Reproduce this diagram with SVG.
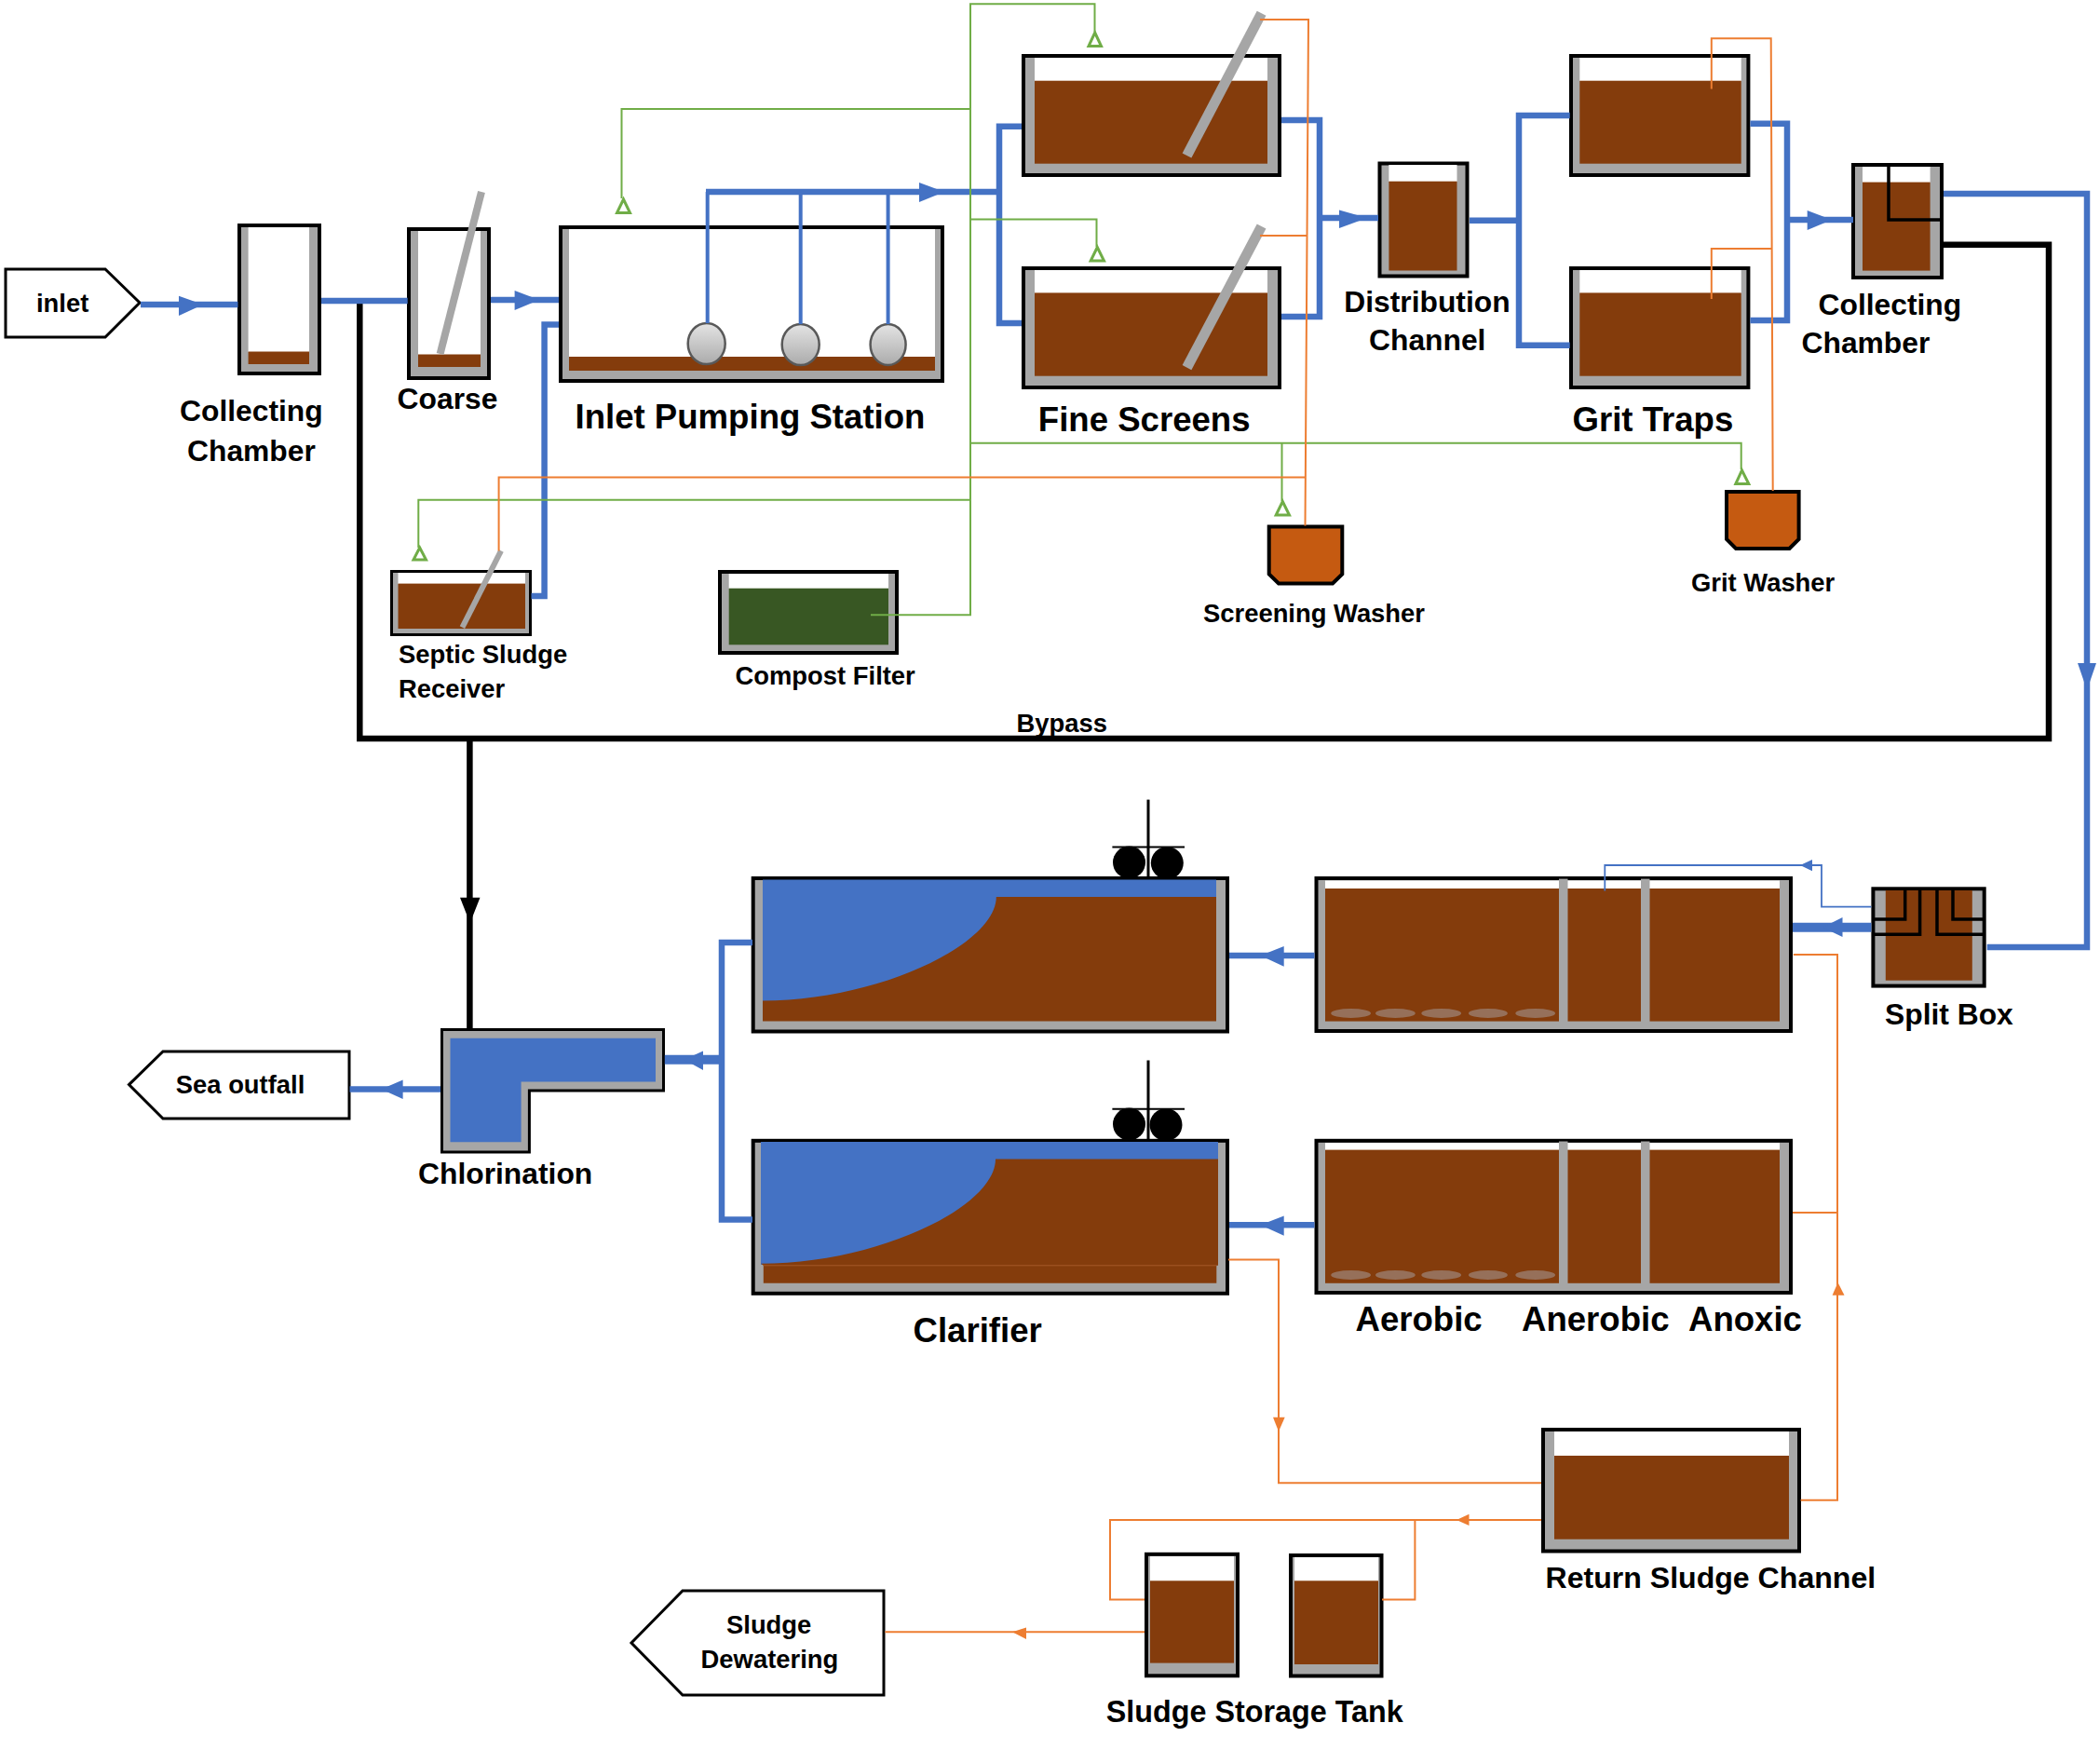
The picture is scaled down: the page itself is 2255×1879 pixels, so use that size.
<svg xmlns="http://www.w3.org/2000/svg" width="2255" height="1879" viewBox="0 0 2255 1879">
<defs>
<linearGradient id="pumpFill" x1="0" y1="0" x2="0" y2="1"><stop offset="0" stop-color="#E4E4E4"/><stop offset="1" stop-color="#ABABAB"/></linearGradient>
</defs>
<style>
text{font-family:"Liberation Sans",Arial,sans-serif;font-weight:700;fill:#000}
.s{font-size:27.4px}.m{font-size:31.8px}.l{font-size:36.6px}
.box{fill:#A6A6A6;stroke:#000;stroke-width:4}
.thin{stroke-width:3}
.clear{fill:#fff}
.mud{fill:#843C0C}
.bio{fill:#385723}
.screen{stroke:#A6A6A6;stroke-width:11;fill:none}
.term{fill:#fff;stroke:#000;stroke-width:3;stroke-linejoin:miter}
.washer{fill:#C55A11;stroke:#000;stroke-width:4}
.pump{fill:url(#pumpFill);stroke:#595959;stroke-width:2.5}
.wire{fill:none;stroke:#000;stroke-width:3.5}
.water{fill:#4472C4}
.bubble{fill:#96705A}
.bk{fill:none;stroke:#000;stroke-width:6.5}
.bl{fill:none;stroke:#4472C4;stroke-width:6.5}
.blt{fill:none;stroke:#4472C4;stroke-width:4}
.blh{fill:none;stroke:#4472C4;stroke-width:1.8}
.gr{fill:none;stroke:#70AD47;stroke-width:2}
.or{fill:none;stroke:#ED7D31;stroke-width:2}
.a-bl{fill:#4472C4}.a-bk{fill:#000}.a-or{fill:#ED7D31}
.a-gr{fill:#fff;stroke:#70AD47;stroke-width:3}
</style>

<g id="inlet"><polygon class="term" points="6,289 113,289 150,325 113,362 6,362"/><text class="s" x="39" y="335">inlet</text></g>

<g id="collecting-chamber-1">
<rect class="box" x="257" y="242" width="86" height="159"/><rect class="clear" x="266.6" y="244" width="65.4" height="134"/><rect class="mud" x="266.6" y="377.5" width="65.4" height="13.5"/>
<text class="m" x="193" y="452.2">Collecting</text><text class="m" x="201" y="495">Chamber</text></g>

<g id="coarse">
<rect class="box" x="439" y="246" width="86" height="160"/><rect class="clear" x="449" y="248" width="67" height="133"/><rect class="mud" x="449" y="380.5" width="67" height="13.5"/>
<line class="screen" style="stroke-width:8" x1="517" y1="206" x2="472.6" y2="380"/>
<text class="m" x="426.6" y="439.2">Coarse</text></g>

<g id="inlet-pumping-station">
<rect class="box" x="602" y="244" width="410" height="165"/><rect class="clear" x="611" y="246" width="393" height="138"/><rect class="mud" x="611" y="383" width="393" height="15"/>
<ellipse class="pump" cx="758.7" cy="369" rx="20" ry="22"/><ellipse class="pump" cx="859.7" cy="370" rx="20" ry="22"/><ellipse class="pump" cx="953.6" cy="370" rx="19" ry="22"/>
<text class="l" x="617.5" y="460">Inlet Pumping Station</text></g>

<g id="fine-screen-1">
<rect class="box" x="1099" y="60" width="275" height="128"/><rect class="clear" x="1111" y="62" width="250" height="25"/><rect class="mud" x="1111" y="86.7" width="250" height="89"/>
<line class="screen" x1="1354.6" y1="14.3" x2="1274.5" y2="167"/></g>
<g id="fine-screen-2">
<rect class="box" x="1099" y="288" width="275" height="128"/><rect class="clear" x="1111" y="290" width="250" height="25"/><rect class="mud" x="1111" y="314.4" width="250" height="89.3"/>
<line class="screen" x1="1354.6" y1="243" x2="1274.5" y2="394.6"/>
<text class="l" x="1114.8" y="463">Fine Screens</text></g>

<g id="distribution-channel">
<rect class="box" x="1481.5" y="175.5" width="94" height="121"/><rect class="clear" x="1491.4" y="177" width="73.1" height="18"/><rect class="mud" x="1491.4" y="194.7" width="73.1" height="95.8"/>
<text class="m" x="1443.2" y="334.6">Distribution</text><text class="m" x="1470" y="376">Channel</text></g>

<g id="grit-trap-1">
<rect class="box" x="1687" y="60" width="190.4" height="128"/><rect class="clear" x="1696.3" y="62" width="173.4" height="25"/><rect class="mud" x="1696.3" y="86.7" width="173.4" height="89"/></g>
<g id="grit-trap-2">
<rect class="box" x="1687" y="288" width="190.4" height="128"/><rect class="clear" x="1696.3" y="290" width="173.4" height="25"/><rect class="mud" x="1696.3" y="314.4" width="173.4" height="89.3"/>
<text class="l" x="1688.5" y="463">Grit Traps</text></g>

<g id="collecting-chamber-2">
<rect class="box" x="1990" y="177" width="95" height="121"/><rect class="clear" x="2000" y="179" width="72.6" height="17"/><rect class="mud" x="2000" y="195.6" width="72.6" height="95"/>
<polyline class="wire" points="2028,177 2028,236 2084,236"/>
<text class="m" x="1952.5" y="338">Collecting</text><text class="m" x="1934.5" y="379">Chamber</text></g>

<g id="septic-sludge-receiver">
<rect class="box thin" x="420.5" y="613.5" width="149" height="68"/><rect class="clear" x="427.5" y="615" width="136.5" height="12"/><rect class="mud" x="427.5" y="626.6" width="136.5" height="48.4"/>
<line class="screen" style="stroke-width:6" x1="538" y1="591.4" x2="496.4" y2="673.7"/>
<text class="s" x="428" y="712">Septic Sludge</text><text class="s" x="428" y="749.2">Receiver</text></g>

<g id="compost-filter">
<rect class="box" x="773" y="614" width="190" height="87"/><rect class="clear" x="782.7" y="616" width="171.3" height="16"/><rect class="bio" x="782.7" y="631.7" width="171.3" height="60.6"/>
<text class="s" x="789.5" y="735">Compost Filter</text></g>

<g id="screening-washer"><polygon class="washer" points="1362.7,565.6 1441.3,565.6 1441.3,616.5 1431,626.5 1373,626.5 1362.7,616.5"/><text class="s" x="1292" y="668">Screening Washer</text></g>
<g id="grit-washer"><polygon class="washer" points="1854,528 1931.6,528 1931.6,579 1921.5,589 1864,589 1854,579"/><text class="s" x="1816" y="634.5">Grit Washer</text></g>

<text id="bypass-label" class="s" x="1091.5" y="785.6">Bypass</text>

<g id="split-box">
<rect class="box" x="2011.4" y="954.3" width="119.3" height="104.3"/><rect class="mud" x="2024.8" y="956" width="93" height="96.7"/>
<polyline class="wire" points="2045.7,956 2045.7,987 2011,987"/><polyline class="wire" points="2061.6,956 2061.6,1003.3 2011,1003.3"/><polyline class="wire" points="2080,956 2080,1003.3 2131,1003.3"/><polyline class="wire" points="2097,956 2097,987 2131,987"/>
<text class="m" x="2024" y="1100.2">Split Box</text></g>

<g id="aeration-basin-1">
<rect class="box" x="1413.5" y="943" width="509.5" height="164"/><rect class="clear" x="1423" y="945.5" width="488" height="9"/><rect class="mud" x="1423" y="954" width="488" height="142.6"/>
<rect class="box" style="stroke:none" x="1674" y="943.6" width="9.5" height="155"/><rect class="box" style="stroke:none" x="1762" y="943.6" width="9.5" height="155"/>
<ellipse class="bubble" cx="1450.6" cy="1088" rx="21.4" ry="5"/><ellipse class="bubble" cx="1498.4" cy="1088" rx="21.4" ry="5"/><ellipse class="bubble" cx="1547.7" cy="1088" rx="21.4" ry="5"/><ellipse class="bubble" cx="1597.9" cy="1088" rx="21" ry="5"/><ellipse class="bubble" cx="1648.7" cy="1088" rx="21.4" ry="5"/></g>
<g id="aeration-basin-2">
<rect class="box" x="1413.5" y="1224.8" width="509.5" height="163.2"/><rect class="clear" x="1423" y="1227" width="488" height="8"/><rect class="mud" x="1423" y="1234.6" width="488" height="143.2"/>
<rect class="box" style="stroke:none" x="1674" y="1225.5" width="9.5" height="155"/><rect class="box" style="stroke:none" x="1762" y="1225.5" width="9.5" height="155"/>
<ellipse class="bubble" cx="1450.6" cy="1369" rx="21.4" ry="5"/><ellipse class="bubble" cx="1498.4" cy="1369" rx="21.4" ry="5"/><ellipse class="bubble" cx="1547.7" cy="1369" rx="21.4" ry="5"/><ellipse class="bubble" cx="1597.9" cy="1369" rx="21" ry="5"/><ellipse class="bubble" cx="1648.7" cy="1369" rx="21.4" ry="5"/>
<text class="l" x="1455.5" y="1428.6">Aerobic</text><text class="l" x="1634" y="1428.6">Anerobic</text><text class="l" x="1813" y="1428.6">Anoxic</text></g>

<g id="clarifier-1">
<line x1="1233" y1="858.6" x2="1233" y2="941" stroke="#000" stroke-width="3"/><line x1="1194.4" y1="909.6" x2="1272" y2="909.6" stroke="#000" stroke-width="2"/>
<circle cx="1212.5" cy="926" r="17.5"/><circle cx="1253.3" cy="926.6" r="17.5"/>
<rect class="box" x="808.7" y="943" width="509.3" height="164.5"/><rect class="water" x="819" y="944.5" width="487" height="135"/><path class="mud" d="M1069.8,963 H1306 V1096.6 H819 V1074.5 C943,1074.5 1069.8,1014 1069.8,963 Z"/></g>
<g id="clarifier-2">
<line x1="1233" y1="1138.5" x2="1233" y2="1223" stroke="#000" stroke-width="3"/><line x1="1194.4" y1="1190.7" x2="1272" y2="1190.7" stroke="#000" stroke-width="2"/>
<circle cx="1212.5" cy="1207" r="17.5"/><circle cx="1252" cy="1207.7" r="17.5"/>
<rect class="box" x="808.7" y="1224.8" width="509.3" height="164"/><rect class="water" x="817" y="1226" width="291" height="132"/><rect class="water" x="1100" y="1226" width="208" height="20"/><path class="mud" d="M1069,1244.5 H1308 V1358.8 H1306.3 V1377.8 H819.8 V1358.8 L817,1356.8 C942,1356.8 1069,1296 1069,1244.5 Z"/><line x1="819.8" y1="1358.8" x2="1306.3" y2="1358.8" stroke="#A5582A" stroke-width="1"/>
<text class="l" x="980.5" y="1441">Clarifier</text></g>

<g id="chlorination">
<polygon class="box" style="stroke-width:3" points="474.5,1105.5 712.5,1105.5 712.5,1171 568.4,1171 568.4,1237 474.5,1237"/><polygon class="water" points="483.5,1114.8 704,1114.8 704,1161.5 559.6,1161.5 559.6,1226.3 483.5,1226.3"/>
<text class="m" x="449" y="1271">Chlorination</text></g>

<g id="sea-outfall"><polygon class="term" points="375,1129 175,1129 138.5,1164.6 175,1201 375,1201"/><text class="s" x="188.8" y="1174.2">Sea outfall</text></g>

<g id="return-sludge-channel">
<rect class="box" x="1657" y="1535" width="275" height="130.5"/><rect class="clear" x="1669" y="1537" width="252" height="27"/><rect class="mud" x="1669" y="1563" width="252" height="89.7"/>
<text class="m" style="font-size:32.1px" x="1659.5" y="1705">Return Sludge Channel</text></g>

<g id="sludge-storage-tank-1">
<rect class="box" x="1231" y="1668.8" width="98" height="130.5"/><rect class="clear" x="1235" y="1671" width="90" height="27"/><rect class="mud" x="1235" y="1697.3" width="90" height="88.3"/></g>
<g id="sludge-storage-tank-2">
<rect class="box" x="1386" y="1670" width="97.5" height="129.5"/><rect class="clear" x="1390" y="1672" width="90" height="26"/><rect class="mud" x="1390" y="1697.3" width="90" height="89.7"/>
<text class="m" style="font-size:32.3px" x="1187.8" y="1849">Sludge Storage Tank</text></g>

<g id="sludge-dewatering"><polygon class="term" points="949,1708 733,1708 678,1764 733,1820 949,1820"/><text class="s" x="780" y="1754">Sludge</text><text class="s" x="752.6" y="1791">Dewatering</text></g>

<g id="connectors">
<g id="bypass-lines">
<polyline class="bk" points="2087,262.8 2200,262.8 2200,793 386.3,793 386.3,323"/>
<line class="bk" x1="504.4" y1="793" x2="504.4" y2="1104"/>
<polygon class="a-bk" points="494,963.8 515.5,963.8 504.7,991"/>
</g>
<g id="blue-lines">
<line class="bl" x1="151" y1="327" x2="255.5" y2="327"/><polygon class="a-bl" points="192,317.8 218,327 192,339"/>
<line class="bl" x1="345" y1="323" x2="437.7" y2="323"/>
<line class="bl" x1="527" y1="322" x2="600" y2="322"/><polygon class="a-bl" points="552.6,312 579,322 552.6,333"/>
<polyline class="bl" points="570.5,640 584.6,640 584.6,348.4 600,348.4"/>
<polyline class="blt" points="759.7,347 759.7,206"/><line class="blt" x1="859.7" y1="206" x2="859.7" y2="348"/><line class="blt" x1="953.6" y1="206" x2="953.6" y2="348"/>
<line class="bl" x1="758" y1="206" x2="1073" y2="206"/><polygon class="a-bl" points="987,196 1014,206 987,217"/>
<polyline class="bl" points="1097,135.7 1073,135.7 1073,347 1097,347"/>
<polyline class="bl" points="1376,129 1417,129 1417,340 1376,340"/>
<line class="bl" x1="1417" y1="234" x2="1480" y2="234"/><polygon class="a-bl" points="1438,225.5 1468,234 1438,245"/>
<line class="bl" x1="1578" y1="236.8" x2="1631" y2="236.8"/>
<polyline class="bl" points="1685.7,124 1631,124 1631,370.8 1685.7,370.8"/>
<polyline class="bl" points="1879.4,132.7 1919,132.7 1919,343.9 1879.4,343.9"/>
<line class="bl" x1="1919" y1="236" x2="1990" y2="236"/><polygon class="a-bl" points="1940.7,226 1967,236 1940.7,247"/>
<polyline class="bl" points="2087,208 2241,208 2241,1017 2133.7,1017"/>
<polygon class="a-bl" points="2231,712 2251,712 2241,741"/>
<line class="bl" style="stroke-width:10" x1="2009.4" y1="995.8" x2="1925" y2="995.8"/><polygon class="a-bl" points="1978.5,985 1978.5,1006 1957,995.8"/>
<polyline class="blh" points="2009.4,973.6 1956,973.6 1956,929 1723.3,929 1723.3,956.6"/><polygon class="a-bl" points="1946,923 1946,935.3 1933,929"/>
<line class="bl" x1="1411.5" y1="1026" x2="1320" y2="1026"/><polygon class="a-bl" points="1378.7,1016 1378.7,1037.7 1353.5,1026"/>
<line class="bl" x1="1411.5" y1="1315.3" x2="1320" y2="1315.3"/><polygon class="a-bl" points="1378.7,1305.4 1378.7,1326.8 1353.5,1315.3"/>
<polyline class="bl" points="808,1012 775,1012 775,1309.4 808,1309.4"/>
<line class="bl" style="stroke-width:10" x1="775" y1="1137.7" x2="713.8" y2="1137.7"/><polygon class="a-bl" points="755,1128.6 755,1149 734.6,1137.7"/>
<line class="bl" x1="473" y1="1169.4" x2="375.5" y2="1169.4"/><polygon class="a-bl" points="432.6,1159.5 432.6,1180 409.4,1169.4"/>
</g>
<g id="green-lines">
<polyline class="gr" points="935,660.3 1042,660.3 1042,4.3 1175.5,4.3 1175.5,34"/><polygon class="a-gr" points="1175.7,35 1182.5,49.5 1169,49.5"/>
<polyline class="gr" points="1042,117 667.5,117 667.5,213"/><polygon class="a-gr" points="669.5,214 676.5,228.5 662.5,228.5"/>
<polyline class="gr" points="1042,235.5 1177.5,235.5 1177.5,265"/><polygon class="a-gr" points="1178.3,265.5 1185.5,280 1171.2,280"/>
<polyline class="gr" points="1042,475.7 1869.7,475.7 1869.7,504"/><polygon class="a-gr" points="1870.5,505 1877.8,519.5 1863.8,519.5"/>
<polyline class="gr" points="1376.5,475.7 1376.5,538"/><polygon class="a-gr" points="1377.3,538.5 1384.5,553 1370.2,553"/>
<polyline class="gr" points="1042,536.8 449.3,536.8 449.3,588"/><polygon class="a-gr" points="450.7,588 457.5,601 444,601"/>
</g>
<g id="orange-lines">
<polyline class="or" points="1353,21 1405,21 1401.5,564.6"/><line class="or" x1="1353" y1="253" x2="1404" y2="253"/>
<polyline class="or" points="1402,512.6 535.6,512.6 535.6,591.4"/>
<polyline class="or" points="1903.7,527 1901.7,41.2 1837.8,41.2 1837.8,95.4"/><polyline class="or" points="1902,267 1837.8,267 1837.8,321"/>
<polyline class="or" points="1925.8,1025 1973,1025 1973,1610.7 1933.6,1610.7"/><line class="or" x1="1925" y1="1302" x2="1973" y2="1302"/>
<polygon class="a-or" points="1973.5,1377 1980.5,1390.8 1967.6,1390.8"/>
<polyline class="or" points="1319,1352.4 1373,1352.4 1373,1592.3 1655,1592.3"/><polygon class="a-or" points="1367,1521.8 1379.7,1521.8 1373,1537"/>
<polyline class="or" points="1655,1631.9 1192,1631.9 1192,1717.4 1229,1717.4"/><polyline class="or" points="1519.4,1631.9 1519.4,1717.4 1484,1717.4"/><polygon class="a-or" points="1577.5,1625.8 1577.5,1638 1564,1631.9"/>
<line class="or" x1="1229" y1="1752.3" x2="950.4" y2="1752.3"/><polygon class="a-or" points="1102,1747.6 1102,1760 1087,1752.3"/>
</g>
</g>
</svg>
